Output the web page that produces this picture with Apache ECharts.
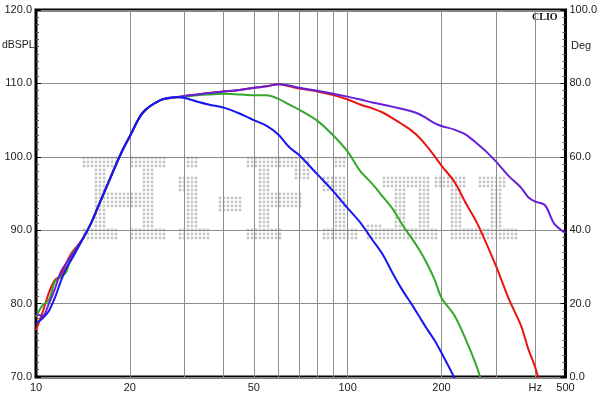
<!DOCTYPE html>
<html>
<head>
<meta charset="utf-8">
<script src="https://cdn.jsdelivr.net/npm/echarts@6/dist/echarts.min.js"></script>
<style>
  html, body { margin: 0; padding: 0; background: #fff; }
  #chart { width: 600px; height: 397px; }
</style>
</head>
<body>
<div id="chart"></div>
<script>
// frequency points (Hz)
const freqs = [10, 10.5, 11, 11.5, 12, 12.5, 13, 14, 15, 16, 17, 18, 19, 20, 22, 25, 28,
  30, 33, 36, 40, 45, 50, 55, 60, 65, 70, 80, 90, 100, 110, 120, 130, 140, 150, 160, 170,
  180, 190, 200, 220, 240, 260, 280, 300, 330, 360, 380, 400, 430, 460, 500]

// dBSPL per curve
const blueSpl = [77.3, 78.0, 79.0, 80.8, 83.0, 84.8, 86.0, 88.5, 90.9, 93.7, 96.3, 98.8, 101.0, 102.8, 106.0, 107.7, 108.1,
  108.0, 107.5, 107.1, 106.7, 105.9, 105.0, 104.2, 103.0, 101.3, 100.2, 97.6, 95.3, 93.0, 91.0, 88.7, 86.6, 84.0, 81.8, 80.0, 78.2,
  76.5, 75.0, 73.3, 69.9, 66.5, null, null, null, null, null, null, null, null, null, null]
const greenSpl = [78.2, 79.8, 80.5, 83.0, 83.6, 84.3, 86.6, 88.5, 90.9, 93.7, 96.3, 98.8, 101.0, 102.8, 106.0, 107.7, 108.1,
  108.2, 108.4, 108.5, 108.6, 108.5, 108.4, 108.4, 107.9, 107.1, 106.4, 104.9, 102.9, 100.7, 98.0, 96.3, 94.5, 92.8, 90.7, 89.0, 87.3,
  85.4, 83.3, 80.8, 78.4, 75.0, 71.3, 67.0, null, null, null, null, null, null, null, null]
const redSpl = [76.4, 78.8, 81.5, 83.2, 83.8, 85.5, 86.9, 88.6, 90.9, 93.7, 96.3, 98.8, 101.0, 102.8, 106.0, 107.7, 108.1,
  108.3, 108.5, 108.7, 108.9, 109.1, 109.4, 109.6, 109.9, 109.6, 109.3, 108.9, 108.4, 107.8, 107.1, 106.6, 106.0, 105.2, 104.4, 103.6, 102.6,
  101.4, 100.1, 98.8, 96.6, 93.6, 91.0, 88.0, 85.0, 80.5, 77.0, 73.8, 71.3, 66.5, null, null]
const purpleSpl = [78.6, 78.3, 80.0, 82.0, 84.3, 85.5, 86.5, 88.6, 90.9, 93.7, 96.3, 98.8, 101.0, 102.8, 106.0, 107.7, 108.1,
  108.3, 108.5, 108.7, 108.9, 109.1, 109.4, 109.6, 109.9, 109.7, 109.4, 109.0, 108.6, 108.2, 107.8, 107.4, 107.1, 106.8, 106.5, 106.2, 105.8,
  105.2, 104.6, 104.2, 103.7, 103.0, 101.8, 100.6, 99.3, 97.3, 95.8, 94.5, 93.9, 93.4, 90.9, 89.6]

// axis ticks
const gridFreqs = [20, 30, 40, 50, 60, 70, 80, 90, 100, 200, 300, 400]
const xLabels = [10, 20, 50, 100, 200, 400, 500]

// dot-matrix watermark, rectangles [col0, row0, col1, row1] on a 4px dot grid
const wmRects = [
  // H
  [0, 0, 8, 2], [12, 0, 20, 2], [3, 0, 5, 20], [15, 0, 17, 20], [3, 9, 17, 12], [0, 18, 8, 20], [12, 18, 20, 20],
  // i
  [26, 0, 28, 2], [24, 5, 28, 8], [26, 5, 28, 20], [24, 18, 31, 20],
  // -
  [34, 10, 39, 13],
  // F
  [41, 0, 56, 2], [53, 3, 56, 5], [44, 0, 46, 20], [44, 9, 54, 12], [41, 18, 49, 20],
  // i
  [63, 0, 65, 2], [60, 5, 65, 8], [63, 5, 65, 20], [60, 18, 68, 20],
  // .
  [71, 17, 74, 20],
  // n
  [75, 5, 86, 7], [78, 5, 80, 20], [84, 5, 86, 20], [75, 18, 82, 20], [83, 18, 88, 20],
  // u
  [88, 5, 95, 7], [92, 5, 94, 20], [99, 5, 105, 7], [102, 5, 104, 20], [92, 18, 108, 20]
]

const wmDots = []
const seen = {}
wmRects.forEach(([c0, r0, c1, r1]) => {
  for (let c = c0; c <= c1; c++) {
    for (let r = r0; r <= r1; r++) {
      const key = c + '_' + r
      if (seen[key]) continue
      seen[key] = true
      wmDots.push({
        type: 'circle',
        silent: true,
        z: -1,
        shape: { cx: 84 + c * 4, cy: 158 + r * 4, r: 1.4 },
        style: { fill: '#c4c4c4' }
      })
    }
  }
})

const pairs = vals => freqs.map((f, i) => [f, vals[i]])

const lineSeries = (name, color, vals) => ({
  name,
  type: 'line',
  data: pairs(vals),
  showSymbol: false,
  smooth: 0.3,
  clip: true,
  lineStyle: { color, width: 2 },
  itemStyle: { color },
  z: 3
})

const font = 'Liberation Sans, Arial, sans-serif'
const chart = echarts.init(document.getElementById('chart'))

chart.setOption({
  animation: false,
  backgroundColor: '#fff',
  grid: {
    left: 36, right: 33, top: 10, bottom: 20,
    show: true, borderColor: '#000', borderWidth: 3, backgroundColor: 'transparent'
  },
  xAxis: {
    type: 'log',
    logBase: 10,
    min: 10,
    max: 500,
    axisLine: { show: false },
    axisTick: { show: true, length: 0, customValues: gridFreqs },
    axisLabel: {
      customValues: xLabels,
      formatter: v => (Math.round(v) === 400 ? 'Hz' : String(Math.round(v))),
      color: '#222', fontSize: 11, fontFamily: font, margin: 5
    },
    splitLine: { show: true, lineStyle: { color: '#8c8c8c', width: 1 } }
  },
  yAxis: [
    {
      type: 'value',
      min: 70,
      max: 120,
      interval: 10,
      axisLine: { show: false },
      axisTick: { show: true, inside: true, length: 5, lineStyle: { color: '#000' } },
      minorTick: { show: true, splitNumber: 10, length: 3, lineStyle: { color: '#555' } },
      axisLabel: { formatter: v => v.toFixed(1), color: '#222', fontSize: 11, fontFamily: font, margin: 4 },
      splitLine: { show: true, lineStyle: { color: '#8c8c8c', width: 1 } }
    },
    {
      type: 'value',
      position: 'right',
      min: 0,
      max: 100,
      interval: 20,
      axisLine: { show: false },
      axisTick: { show: true, inside: true, length: 5, lineStyle: { color: '#000' } },
      minorTick: { show: true, splitNumber: 10, length: 3, lineStyle: { color: '#555' } },
      axisLabel: { formatter: v => v.toFixed(1), color: '#222', fontSize: 11, fontFamily: font, margin: 4 },
      splitLine: { show: false }
    }
  ],
  graphic: [
    { type: 'group', silent: true, children: wmDots },
    { type: 'text', left: 2, top: 40, style: { text: 'dBSPL', font: '10.5px ' + font, fill: '#222' } },
    { type: 'text', left: 571, top: 40, style: { text: 'Deg', font: '11px ' + font, fill: '#222' } },
    { type: 'text', left: 532, top: 12, style: { text: 'CLIO', font: 'bold 10px Liberation Serif, serif', fill: '#111' } }
  ],
  series: [
    lineSeries('red', '#e8150f', redSpl),
    lineSeries('green', '#35a82a', greenSpl),
    lineSeries('purple', '#6620d8', purpleSpl),
    lineSeries('blue', '#1717f0', blueSpl)
  ]
})
</script>
</body>
</html>
